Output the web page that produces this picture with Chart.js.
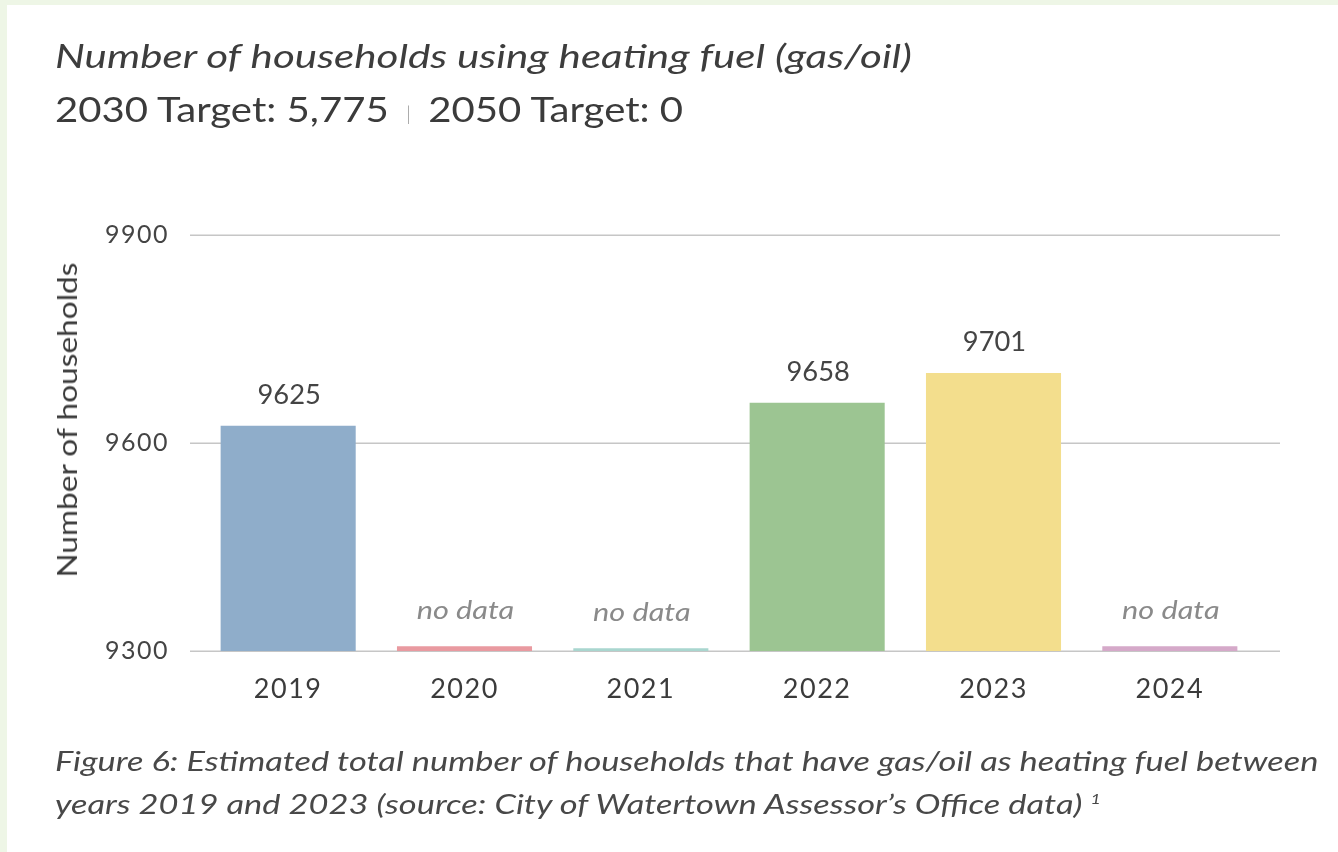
<!DOCTYPE html>
<html>
<head>
<meta charset="utf-8">
<script src="https://cdn.jsdelivr.net/npm/chart.js@4/dist/chart.umd.min.js"></script>
<style>
  html, body { margin: 0; padding: 0; }
  body { width: 1338px; height: 852px; background: #eef6e6; position: relative; overflow: hidden; font-family: Lato, "Open Sans", sans-serif; }
  #card { position: absolute; left: 7px; top: 5px; right: 0; bottom: 0; background: #ffffff; }
  #wrap { position: absolute; left: 0; top: 0; width: 1338px; height: 852px; }
  .t { position: absolute; white-space: nowrap; color: #3b3b3b; transform-origin: 0 0; }
  #title { left: 55px; top: 37px; font-size: 32px; line-height: 38px; font-style: italic; color: #3d3d3d; }
  #subtitle { left: 55px; top: 87px; font-size: 35px; line-height: 42px; }
  #subtitle .sep { color: #9c9c9c; font-size: 19px; font-weight: 300; padding: 0 15px; position: relative; top: -1px; }
  #ytitle { left: 67px; top: 420px; font-size: 27px; line-height: 32px; transform-origin: 50% 50%; }
  #caption { left: 55px; top: 742px; font-size: 27px; line-height: 38px; font-style: italic; color: #484848; }
</style>
</head>
<body>
<div id="card"></div>
<div id="wrap"><canvas id="c" width="1338" height="852"></canvas></div>
<div class="t" id="title" data-w="857">Number of households using heating fuel (gas/oil)</div>
<div class="t" id="subtitle" data-w="628">2030 Target: 5,775<span class="sep">|</span>2050 Target: 0</div>
<div class="t" id="ytitle" data-w="315">Number of households</div>
<div class="t" id="caption" data-w="1263">Figure 6: Estimated total number of households that have gas/oil as heating fuel between<br>years 2019 and 2023 (source: City of Watertown Assessor’s Office data) <sup style="font-size:14px;vertical-align:10px;">1</sup></div>
<script>
const categories = ['2019', '2020', '2021', '2022', '2023', '2024'];
const values = [9625, 9307, 9304, 9658, 9701, 9307];
const valueLabels = ['9625', 'no data', 'no data', '9658', '9701', 'no data'];
const barColors = ['#8fadca', '#e99aa0', '#a9d6cf', '#9cc592', '#f3de8d', '#d5a9c9'];
const yTicks = [9300, 9600, 9900];

// stretch HTML text horizontally to the reference's wide lettering
document.querySelectorAll('[data-w]').forEach(el => {
  const k = parseFloat(el.dataset.w) / el.offsetWidth;
  if (el.id === 'ytitle') {
    el.style.transform = 'translate(-50%, -50%) rotate(-90deg) scaleX(' + k + ')';
  } else {
    el.style.transform = 'scaleX(' + k + ')';
  }
});

const spacingPlugin = {
  id: 'spacing',
  beforeDraw(chart) { chart.ctx.letterSpacing = '1.5px'; },
  afterDraw(chart) { chart.ctx.letterSpacing = '0px'; }
};

const gridPlugin = {
  id: 'extGrid',
  beforeDatasetsDraw(chart) {
    const y = chart.scales.y, ctx = chart.ctx, a = chart.chartArea;
    ctx.save();
    ctx.strokeStyle = '#c6c6c6';
    ctx.lineWidth = 1.5;
    yTicks.forEach(v => {
      const py = Math.round(y.getPixelForValue(v)) + 0.25;
      ctx.beginPath();
      ctx.moveTo(a.left - 10, py);
      ctx.lineTo(a.right + 22, py);
      ctx.stroke();
    });
    ctx.restore();
  }
};

const labelPlugin = {
  id: 'barLabels',
  afterDatasetsDraw(chart) {
    const ctx = chart.ctx;
    const meta = chart.getDatasetMeta(0);
    meta.data.forEach((bar, i) => {
      const txt = valueLabels[i];
      let off, k;
      ctx.save();
      ctx.letterSpacing = '0px';
      ctx.textAlign = 'center';
      ctx.textBaseline = 'middle';
      if (txt === 'no data') {
        ctx.font = 'italic 26px Lato, sans-serif';
        ctx.fillStyle = '#8a8a8a';
        off = 36; k = 1.18;
      } else {
        ctx.font = '26px Lato, sans-serif';
        ctx.fillStyle = '#444444';
        off = 30; k = 1.05;
      }
      ctx.translate(bar.x + 1, bar.y - off);
      ctx.scale(k, 1);
      ctx.fillText(txt, 0, 0);
      ctx.restore();
    });
  }
};

new Chart(document.getElementById('c'), {
  type: 'bar',
  data: {
    labels: categories,
    datasets: [{
      data: values,
      backgroundColor: barColors,
      borderWidth: 0,
      barPercentage: 0.766,
      categoryPercentage: 1.0
    }]
  },
  options: {
    responsive: false,
    animation: false,
    events: [],
    layout: { padding: { left: 0, top: 235, right: 80, bottom: 0 } },
    plugins: { legend: { display: false }, tooltip: { enabled: false }, title: { display: false } },
    scales: {
      x: {
        grid: { display: false, drawTicks: false },
        border: { display: false },
        ticks: { color: '#3b3b3b', font: { family: 'Lato', size: 27 }, padding: 22 },
        afterFit(s) { s.height = 201; }
      },
      y: {
        min: 9300,
        max: 9900,
        grid: { display: false, drawTicks: false },
        border: { display: false },
        afterBuildTicks(s) { s.ticks = yTicks.map(v => ({ value: v })); },
        ticks: { color: '#444444', font: { family: 'Lato', size: 25 }, padding: 31, callback: v => String(v) },
        afterFit(s) { s.width = 200; }
      }
    }
  },
  plugins: [spacingPlugin, gridPlugin, labelPlugin]
});
</script>
</body>
</html>
